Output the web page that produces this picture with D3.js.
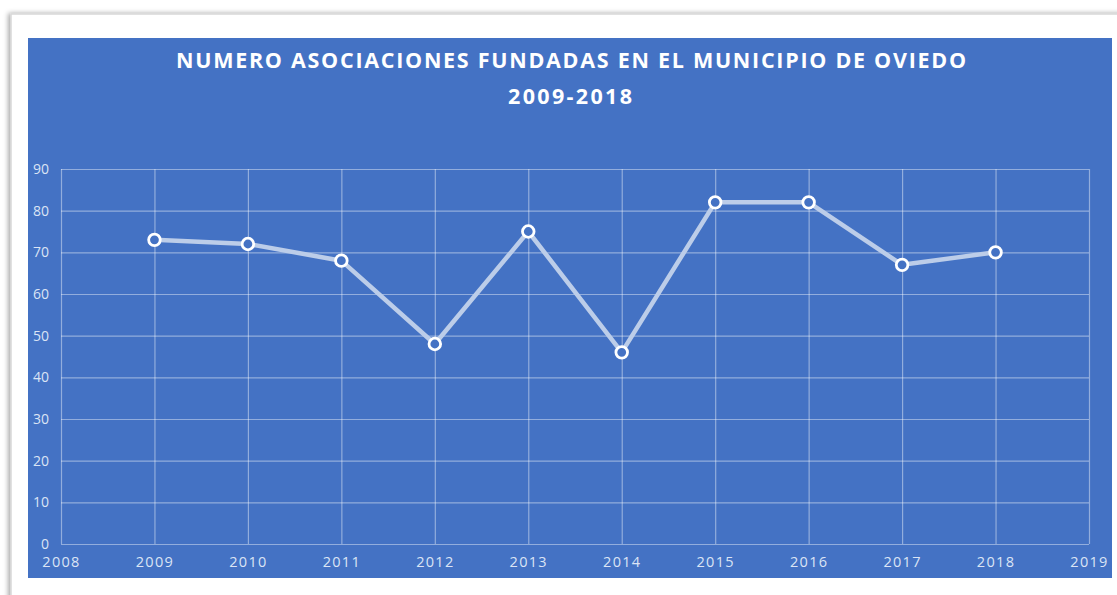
<!DOCTYPE html>
<html><head><meta charset="utf-8">
<script src="https://cdn.jsdelivr.net/npm/d3@7"></script>
<style>
html,body{margin:0;padding:0;background:#fff;}
svg{display:block;}
</style></head>
<body>
<svg id="c" width="1117" height="595"></svg>
<script>
const years = [2009, 2010, 2011, 2012, 2013, 2014, 2015, 2016, 2017, 2018];
const counts = [73, 72, 68, 48, 75, 46, 82, 82, 67, 70];
const xTicks = [2008, 2009, 2010, 2011, 2012, 2013, 2014, 2015, 2016, 2017, 2018, 2019];
const yTicks = [0, 10, 20, 30, 40, 50, 60, 70, 80, 90];
const titleLines = ["NUMERO ASOCIACIONES FUNDADAS EN EL MUNICIPIO DE OVIEDO", "2009-2018"];

const svg = d3.select("#c");

// card frame
const defs = svg.append("defs");
const f = defs.append("filter").attr("id","sh").attr("x","-5%").attr("y","-5%").attr("width","110%").attr("height","110%");
f.append("feDropShadow").attr("dx",-2).attr("dy",0).attr("stdDeviation",2.5).attr("flood-color","#000").attr("flood-opacity",0.35);
svg.append("rect").attr("x",11).attr("y",14).attr("width",1130).attr("height",620)
  .attr("fill","#fff").attr("stroke","#d8d8d8").attr("stroke-width",1.5).attr("filter","url(#sh)");

// blue chart area
svg.append("rect").attr("x",28).attr("y",38).attr("width",1084).attr("height",540).attr("fill","#4472C4");

const x = d3.scaleLinear().domain([2008, 2019]).range([61, 1089]);
const y = d3.scaleLinear().domain([0, 90]).range([544, 169]);

const gridCol = "rgba(255,255,255,0.42)";
const gy = svg.append("g").attr("transform","translate(61,0)")
  .call(d3.axisLeft(y).tickValues(yTicks).tickSize(-(1089-61)).tickFormat(""));
gy.select(".domain").remove();
gy.selectAll("line").attr("stroke",gridCol).attr("stroke-width",1.2);
const gx = svg.append("g").attr("transform","translate(0,544)")
  .call(d3.axisTop(x).tickValues(xTicks).tickSize(544-169).tickFormat(""));
gx.select(".domain").remove();
gx.selectAll("line").attr("stroke",gridCol).attr("stroke-width",1.2);

// tick labels
const lblCol = "#dbe4f5";
const yl = svg.append("g").attr("transform","translate(49,0)")
  .call(d3.axisLeft(y).tickValues(yTicks).tickSize(0).tickPadding(0).tickFormat(d3.format("d")));
yl.select(".domain").remove();
yl.selectAll("text").attr("fill",lblCol).attr("font-family","'Open Sans', sans-serif").attr("font-size",14).attr("dy","0.32em");

const xl = svg.append("g").attr("transform","translate(0,557)")
  .call(d3.axisBottom(x).tickValues(xTicks).tickSize(0).tickPadding(0).tickFormat(d3.format("d")));
xl.select(".domain").remove();
xl.selectAll("text").attr("fill",lblCol).attr("font-family","'Open Sans', sans-serif").attr("font-size",14.5)
  .attr("letter-spacing","1.3px").attr("dy","0.71em");

// line
const data = years.map((yr,i)=>({yr, v:counts[i]}));
const line = d3.line().x(d=>x(d.yr)).y(d=>y(d.v));
svg.append("path").datum(data).attr("d",line).attr("fill","none")
  .attr("stroke","#bccde9").attr("stroke-width",4.5).attr("stroke-linejoin","round");

svg.selectAll("circle.pt").data(data).join("circle").attr("class","pt")
  .attr("cx",d=>x(d.yr)).attr("cy",d=>y(d.v)).attr("r",5.8)
  .attr("fill","#4472C4").attr("stroke","#fff").attr("stroke-width",2.8);

// title
const t = svg.append("g");
t.append("text").attr("x",571).attr("y",68).attr("text-anchor","middle")
  .attr("fill","#fff").attr("font-family","'Open Sans', sans-serif").attr("font-weight","bold")
  .attr("font-size",21.5).attr("textLength",790).attr("lengthAdjust","spacing").text(titleLines[0]);
t.append("text").attr("x",570).attr("y",104).attr("text-anchor","middle")
  .attr("fill","#fff").attr("font-family","'Open Sans', sans-serif").attr("font-weight","bold")
  .attr("font-size",21.5).attr("textLength",124).attr("lengthAdjust","spacing").text(titleLines[1]);
</script>
</body></html>
